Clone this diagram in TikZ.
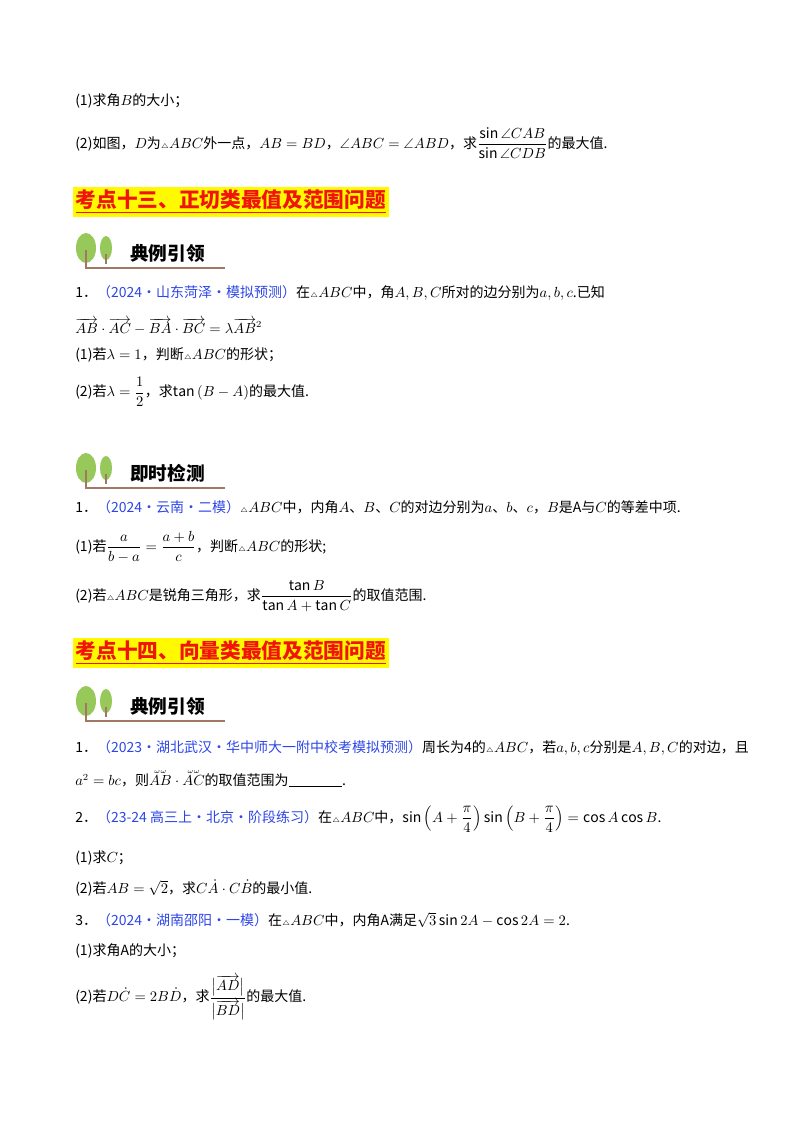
\documentclass[tikz,border=0pt]{standalone}
\usepackage{amsmath,amssymb}
\usepackage{fontspec}
\setmainfont{Noto Sans CJK SC}
\definecolor{src}{RGB}{45,70,230}
\definecolor{hred}{RGB}{240,20,10}
\definecolor{hyel}{RGB}{255,250,0}
\definecolor{leaf}{RGB}{150,200,90}
\definecolor{trunk}{RGB}{160,120,100}
\newcommand{\tri}{{\scriptscriptstyle\triangle}}
\newcommand{\src}[1]{\textcolor{src}{（#1）}}
\begin{document}
\begin{tikzpicture}[x=0.75pt,y=-0.75pt,
  ln/.style={anchor=west,inner sep=0pt,font=\fontsize{10.5}{12}\selectfont},
  hd/.style={anchor=west,inner sep=2pt,fill=hyel,text=hred,font=\fontsize{15.5}{18}\selectfont\bfseries},
  ic/.style={anchor=west,inner sep=0pt,font=\fontsize{14}{16}\selectfont\bfseries}]
\useasboundingbox (0,0) rectangle (800,1132);
\newcommand{\icon}[3]{%
  \fill[leaf] (86,#1-2) ellipse (10 and 15);
  \fill[leaf] (106,#1-2) ellipse (6 and 12);
  \draw[trunk,line width=1.5pt] (86,#1) -- (86,#1+18) -- (225,#1+18);
  \draw[trunk,line width=1pt] (106,#1+4) -- (106,#1+14);
  \node[ic] (#3) at (130,#1+3) {#2};}
\node[ln] (a1) at (75,101) {(1)求角$B$的大小；};
\node[ln] (a2) at (75,143) {(2)如图，$D$为$\tri ABC$外一点，$AB=BD$，$\angle ABC=\angle ABD$，求$\dfrac{\sin\angle CAB}{\sin\angle CDB}$的最大值.};
\node[hd] (h13) at (73,202) {\underline{考点十三、正切类最值及范围问题}};
\icon{250}{典例引领}{i1}
\node[ln] (b1) at (75,293) {1．\src{2024·山东菏泽·模拟预测}在$\tri ABC$中，角$A,B,C$所对的边分别为$a,b,c$.已知};
\node[ln] (b2) at (75,326) {$\overrightarrow{AB}\cdot\overrightarrow{AC}-\overrightarrow{BA}\cdot\overrightarrow{BC}=\lambda\overrightarrow{AB}^{2}$};
\node[ln] (b3) at (75,355) {(1)若$\lambda=1$，判断$\tri ABC$的形状；};
\node[ln] (b4) at (75,392) {(2)若$\lambda=\dfrac12$，求$\tan\left(B-A\right)$的最大值.};
\icon{470}{即时检测}{i2}
\node[ln] (c1) at (75,507) {1．\src{2024·云南·二模}$\tri ABC$中，内角$A$、$B$、$C$的对边分别为$a$、$b$、$c$，$B$是$\mathrm{A}$与$C$的等差中项.};
\node[ln] (c2) at (75,547) {(1)若$\dfrac{a}{b-a}=\dfrac{a+b}{c}$，判断$\tri ABC$的形状;};
\node[ln] (c3) at (75,596) {(2)若$\tri ABC$是锐角三角形，求$\dfrac{\tan B}{\tan A+\tan C}$的取值范围.};
\node[hd] (h14) at (73,653) {\underline{考点十四、向量类最值及范围问题}};
\icon{703}{典例引领}{i3}
\node[ln] (d1) at (75,748) {1．\src{2023·湖北武汉·华中师大一附中校考模拟预测}周长为4的$\tri ABC$，若$a,b,c$分别是$A,B,C$的对边，且};
\node[ln] (d2) at (75,778) {$a^2=bc$，则$\overset{\scriptscriptstyle\omega\omega}{AB}\cdot\overset{\scriptscriptstyle\omega\omega}{AC}$的取值范围为\rule[-1pt]{40pt}{0.6pt}.};
\node[ln] (d3) at (75,819) {2．\src{23-24 高三上·北京·阶段练习}在$\tri ABC$中，$\sin\left(A+\dfrac{\pi}{4}\right)\sin\left(B+\dfrac{\pi}{4}\right)=\cos A\cos B$.};
\node[ln] (d4) at (75,858) {(1)求$C$；};
\node[ln] (d5) at (75,888) {(2)若$AB=\sqrt2$，求$C\dot{A}\cdot C\dot{B}$的最小值.};
\node[ln] (d6) at (75,920) {3．\src{2024·湖南邵阳·一模}在$\tri ABC$中，内角$\mathrm{A}$满足$\sqrt3\sin2A-\cos2A=2$.};
\node[ln] (d7) at (75,951) {(1)求角$\mathrm{A}$的大小；};
\node[ln] (d8) at (75,998) {(2)若$D\dot{C}=2B\dot{D}$，求$\dfrac{\bigl|\overrightarrow{AD}\bigr|}{\bigl|\overrightarrow{BD}\bigr|}$的最大值.};
\end{tikzpicture}
\end{document}
